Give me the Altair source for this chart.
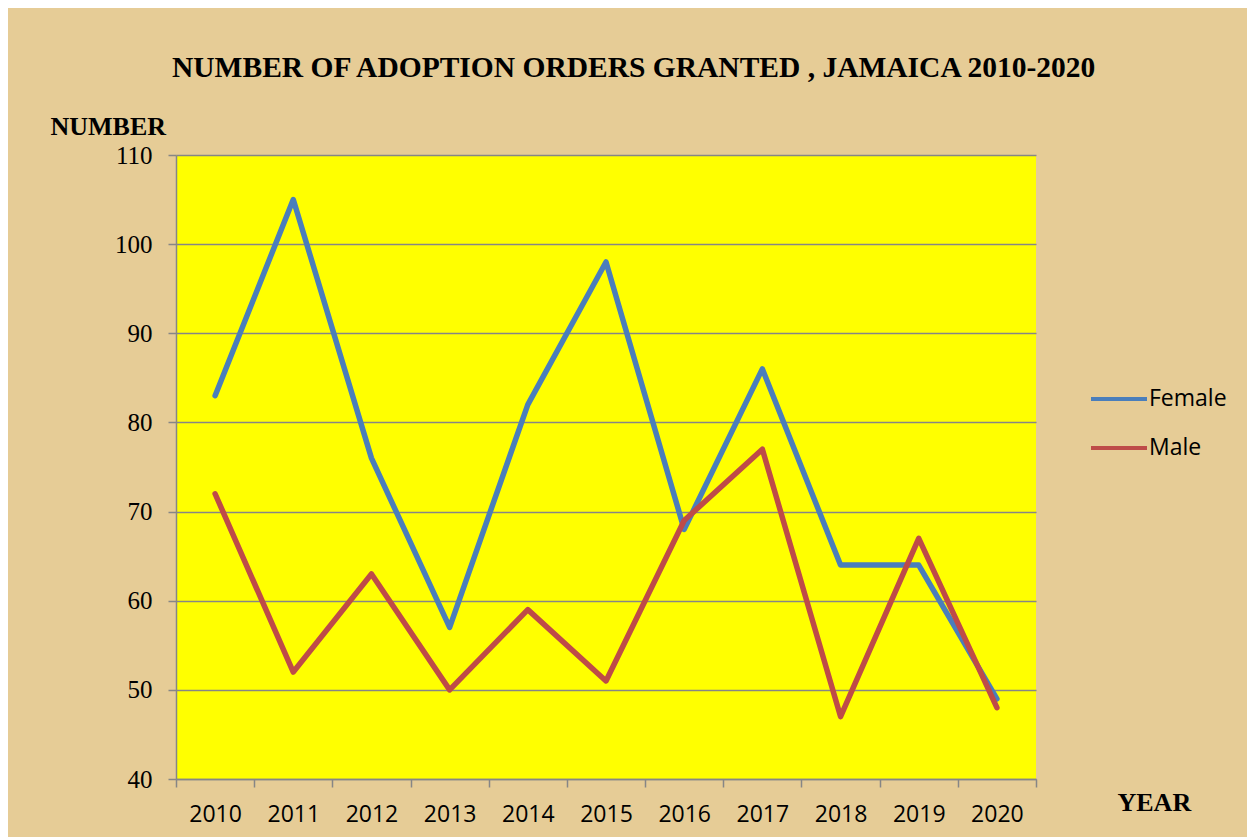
import altair as alt
import pandas as pd

years = ["2010", "2011", "2012", "2013", "2014", "2015", "2016", "2017", "2018", "2019", "2020"]
female = [83, 105, 76, 57, 82, 98, 68, 86, 64, 64, 49]
male = [72, 52, 63, 50, 59, 51, 69, 77, 47, 67, 48]
series = ["Female", "Male"]
y_ticks = [40, 50, 60, 70, 80, 90, 100, 110]

rows = []
for s, vals in zip(series, [female, male]):
    for yr, v in zip(years, vals):
        rows.append({"Year": yr, "Number": v, "Sex": s})
df = pd.DataFrame(rows)

GRAY = "#868686"
SERIF = "Liberation Serif"
SANS = "Open Sans"

chart = (
    alt.Chart(df)
    .mark_line(strokeWidth=5.5, strokeJoin="round", strokeCap="round")
    .encode(
        x=alt.X(
            "Year:O",
            sort=years,
            scale=alt.Scale(type="band", paddingInner=0, paddingOuter=0),
            axis=alt.Axis(
                title="YEAR",
                titleAngle=0,
                titleAlign="left",
                titleBaseline="alphabetic",
                titleX=941,
                titleY=31,
                titleFont=SERIF,
                titleFontSize=26,
                titleFontWeight="bold",
                titleColor="black",
                labelAngle=0,
                labelFont=SANS,
                labelFontSize=23,
                labelColor="black",
                labelPadding=16,
                tickBand="extent",
                tickSize=8,
                tickColor=GRAY,
                tickWidth=1.5,
                domainColor=GRAY,
                domainWidth=1.5,
                grid=False,
            ),
        ),
        y=alt.Y(
            "Number:Q",
            scale=alt.Scale(domain=[40, 110], nice=False, zero=False),
            axis=alt.Axis(
                values=y_ticks,
                title="NUMBER",
                titleAngle=0,
                titleAlign="left",
                titleBaseline="alphabetic",
                titleX=-126,
                titleY=-21,
                titleFont=SERIF,
                titleFontSize=26,
                titleFontWeight="bold",
                titleColor="black",
                labelFont=SERIF,
                labelFontSize=25,
                labelColor="black",
                labelPadding=16,
                tickSize=8,
                tickColor=GRAY,
                tickWidth=1.5,
                domainColor=GRAY,
                domainWidth=1.5,
                grid=True,
                gridColor=GRAY,
                gridWidth=1.5,
            ),
        ),
        color=alt.Color(
            "Sex:N",
            sort=series,
            scale=alt.Scale(domain=series, range=["#4A7EBB", "#BE4B48"]),
            legend=alt.Legend(
                title=None,
                orient="none",
                legendX=913,
                legendY=214,
                symbolType="stroke",
                symbolSize=3136,
                symbolStrokeWidth=4,
                labelFont=SANS,
                labelFontSize=23,
                labelColor="black",
                labelOffset=0,
                labelLimit=300,
                rowPadding=7,
                padding=0,
            ),
        ),
    )
    .properties(
        width=860,
        height=624,
        title=alt.TitleParams(
            text="NUMBER OF ADOPTION ORDERS GRANTED , JAMAICA 2010-2020",
            font=SERIF,
            fontSize=29.5,
            fontWeight="bold",
            color="black",
            anchor="start",
            frame="group",
            dx=-4,
            offset=30,
        ),
        background="#E6CC96",
        padding={"left": 168, "top": 147, "right": 211, "bottom": 58},
        autosize=alt.AutoSizeParams(type="none"),
    )
    .configure_view(fill="#FFFF00", stroke=None)
)

chart.save("out.html", embed_options={"renderer": "svg", "actions": False})
